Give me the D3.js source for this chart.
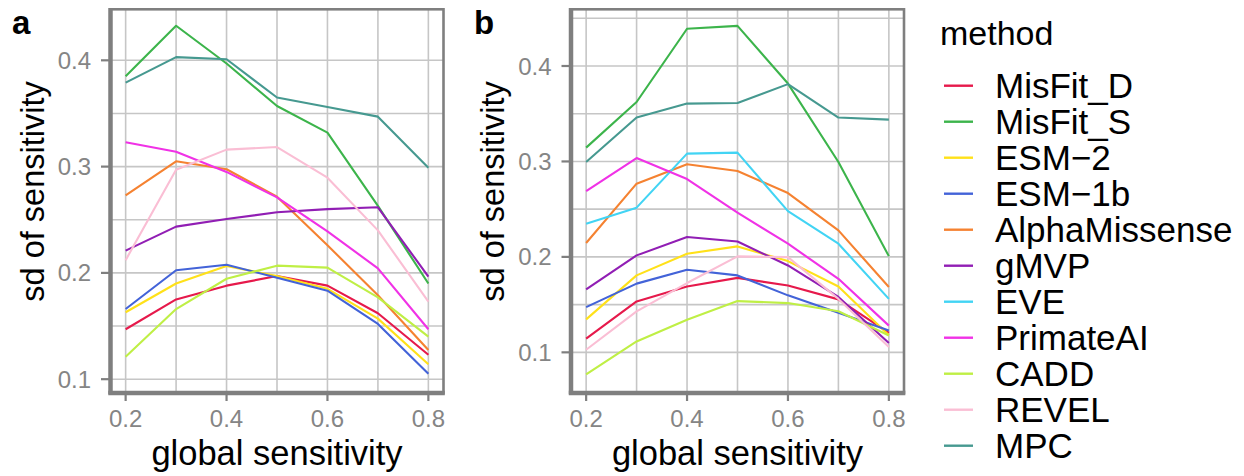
<!DOCTYPE html>
<html><head><meta charset="utf-8">
<script src="https://cdn.jsdelivr.net/npm/d3@7"></script>
<style>body{margin:0;background:#fff}svg{display:block}text{font-family:"Liberation Sans",Arial,Helvetica,sans-serif}</style>
</head><body><svg id="c" width="1244" height="476"></svg>
<script>
const methods = ["MisFit_D","MisFit_S","ESM-2","ESM-1b","AlphaMissense","gMVP","EVE","PrimateAI","CADD","REVEL","MPC"];
const legendLabels = ["MisFit_D","MisFit_S","ESM\u22122","ESM\u22121b","AlphaMissense","gMVP","EVE","PrimateAI","CADD","REVEL","MPC"];
const colors = ["#e6194b","#3cb44b","#ffe119","#4363d8","#f58231","#911eb4","#42d4f4","#f032e6","#bfef45","#fabed4","#469990"];
const xValues = [0.2,0.3,0.4,0.5,0.6,0.7,0.8];
const xTicks = [0.2,0.4,0.6,0.8];
const xGrid = [0.2,0.3,0.4,0.5,0.6,0.7,0.8];
const yTicks = [0.1,0.2,0.3,0.4];
const yGrid = [0.1,0.15,0.2,0.25,0.3,0.35,0.4,0.45];
const panelLetters = ["a","b"];
const xTitle = "global sensitivity";
const yTitle = "sd of sensitivity";
const legendTitle = "method";

// panel a (no EVE)
const a_MisFit_D     = [0.147,0.175,0.188,0.197,0.188,0.162,0.123];
const a_MisFit_S     = [0.385,0.4325,0.397,0.357,0.332,0.263,0.190];
const a_ESM2         = [0.163,0.190,0.2065,0.197,0.185,0.157,0.114];
const a_ESM1b        = [0.166,0.2025,0.2077,0.1955,0.1833,0.152,0.105];
const a_AlphaMissense= [0.273,0.305,0.2975,0.2717,0.226,0.179,0.1275];
const a_gMVP         = [0.221,0.2435,0.2507,0.257,0.260,0.2617,0.1965];
const a_EVE          = null;
const a_PrimateAI    = [0.323,0.314,0.295,0.271,0.239,0.2043,0.147];
const a_CADD         = [0.121,0.166,0.1945,0.2068,0.205,0.177,0.140];
const a_REVEL        = [0.212,0.297,0.316,0.3184,0.2896,0.240,0.173];
const a_MPC          = [0.379,0.403,0.401,0.365,0.356,0.347,0.299];

// panel b
const b_MisFit_D     = [0.1143,0.1533,0.169,0.178,0.170,0.1555,0.1205];
const b_MisFit_S     = [0.3145,0.3623,0.439,0.442,0.3816,0.2994,0.2008];
const b_ESM2         = [0.1345,0.1806,0.2033,0.211,0.1956,0.169,0.118];
const b_ESM1b        = [0.1474,0.172,0.1866,0.1806,0.1597,0.1415,0.123];
const b_AlphaMissense= [0.2145,0.2767,0.297,0.290,0.2669,0.2278,0.1684];
const b_gMVP         = [0.166,0.2016,0.2208,0.2162,0.191,0.158,0.1097];
const b_EVE          = [0.2348,0.2516,0.3082,0.3092,0.248,0.2138,0.156];
const b_PrimateAI    = [0.269,0.3036,0.2816,0.2463,0.2138,0.177,0.128];
const b_CADD         = [0.0768,0.1114,0.1342,0.1537,0.1516,0.143,0.1177];
const b_REVEL        = [0.1027,0.143,0.1726,0.2005,0.1998,0.156,0.1055];
const b_MPC          = [0.2994,0.346,0.3606,0.3612,0.381,0.346,0.3438];

const seriesA = [a_MisFit_D,a_MisFit_S,a_ESM2,a_ESM1b,a_AlphaMissense,a_gMVP,a_EVE,a_PrimateAI,a_CADD,a_REVEL,a_MPC];
const seriesB = [b_MisFit_D,b_MisFit_S,b_ESM2,b_ESM1b,b_AlphaMissense,b_gMVP,b_EVE,b_PrimateAI,b_CADD,b_REVEL,b_MPC];

const svg = d3.select("#c");
const panels = [
  {series: seriesA, left:110.5, right:443.5, yDomain:[0.087,0.448], yTitleX:43.5, letterX:12, letter:panelLetters[0]},
  {series: seriesB, left:571, right:904, yDomain:[0.0574,0.4594], yTitleX:503.5, letterX:474, letter:panelLetters[1]}
];
const panelTop = 9.3, panelBottom = 393;
const gridColor = "#c6c6c6", axisColor = "#7f7f7f", tickTextColor = "#858585";

panels.forEach(p => {
  const w = p.right - p.left;
  const x = d3.scaleLinear().domain([0.17,0.83]).range([p.left, p.right]);
  const y = d3.scaleLinear().domain(p.yDomain).range([panelBottom, panelTop]);
  const g = svg.append("g");
  g.selectAll(".gy").data(yGrid.filter(v => y(v) > panelTop && y(v) < panelBottom)).join("line")
    .attr("x1", p.left).attr("x2", p.right).attr("y1", d=>y(d)).attr("y2", d=>y(d))
    .attr("stroke", gridColor).attr("stroke-width", 1.6);
  g.selectAll(".gx").data(xGrid).join("line")
    .attr("y1", panelTop).attr("y2", panelBottom).attr("x1", d=>x(d)).attr("x2", d=>x(d))
    .attr("stroke", gridColor).attr("stroke-width", 1.6);
  const line = d3.line().x((d,i)=>x(xValues[i])).y(d=>y(d));
  p.series.forEach((s, i) => {
    if (!s) return;
    g.append("path").attr("d", line(s)).attr("fill","none")
      .attr("stroke", colors[i]).attr("stroke-width", 2.1).attr("stroke-linejoin","round");
  });
  g.append("rect").attr("x", p.left).attr("y", panelTop).attr("width", w).attr("height", panelBottom-panelTop)
    .attr("fill","none").attr("stroke", axisColor).attr("stroke-width", 2.6);
  g.append("line").attr("x1", p.left).attr("x2", p.left).attr("y1", panelTop-1.3).attr("y2", panelBottom+1.3)
    .attr("stroke", axisColor).attr("stroke-width", 4.5);
  g.append("line").attr("x1", p.left-2.2).attr("x2", p.right+1.3).attr("y1", panelBottom).attr("y2", panelBottom)
    .attr("stroke", axisColor).attr("stroke-width", 4.5);
  g.selectAll(".ty").data(yTicks).join("line")
    .attr("x1", p.left-9.5).attr("x2", p.left).attr("y1", d=>y(d)).attr("y2", d=>y(d))
    .attr("stroke", axisColor).attr("stroke-width", 2.2);
  g.selectAll(".tyl").data(yTicks).join("text")
    .attr("x", p.left-19.5).attr("y", d=>y(d)+8.6).attr("text-anchor","end")
    .attr("font-size", 24).attr("fill", tickTextColor).text(d=>d3.format(".1f")(d));
  g.selectAll(".tx").data(xTicks).join("line")
    .attr("y1", panelBottom).attr("y2", panelBottom+8).attr("x1", d=>x(d)).attr("x2", d=>x(d))
    .attr("stroke", axisColor).attr("stroke-width", 2.2);
  g.selectAll(".txl").data(xTicks).join("text")
    .attr("x", d=>x(d)).attr("y", 426.7).attr("text-anchor","middle")
    .attr("font-size", 24).attr("fill", tickTextColor).text(d=>d3.format(".1f")(d));
  g.append("text").attr("x", (p.left+p.right)/2).attr("y", 465).attr("text-anchor","middle")
    .attr("font-size", 34.5).attr("fill","#000").text(xTitle);
  g.append("text").attr("transform", `translate(${p.yTitleX},191.5) rotate(-90)`).attr("text-anchor","middle")
    .attr("font-size", 32.5).attr("fill","#000").text(yTitle);
  g.append("text").attr("x", p.letterX).attr("y", 33.5).attr("font-size", 33).attr("font-weight","bold")
    .attr("fill","#000").text(p.letter);
});

const lg = svg.append("g");
lg.append("text").attr("x", 940).attr("y", 45).attr("font-size", 34).attr("fill","#000").text(legendTitle);
const ly = d3.scaleLinear().domain([0, methods.length-1]).range([85.7, 445.7]);
methods.forEach((m, i) => {
  lg.append("line").attr("x1", 944).attr("x2", 973).attr("y1", ly(i)).attr("y2", ly(i))
    .attr("stroke", colors[i]).attr("stroke-width", 2.4);
  lg.append("text").attr("x", 995).attr("y", ly(i)+12.6).attr("font-size", 35).attr("fill","#000")
    .text(legendLabels[i]);
});
</script></body></html>
